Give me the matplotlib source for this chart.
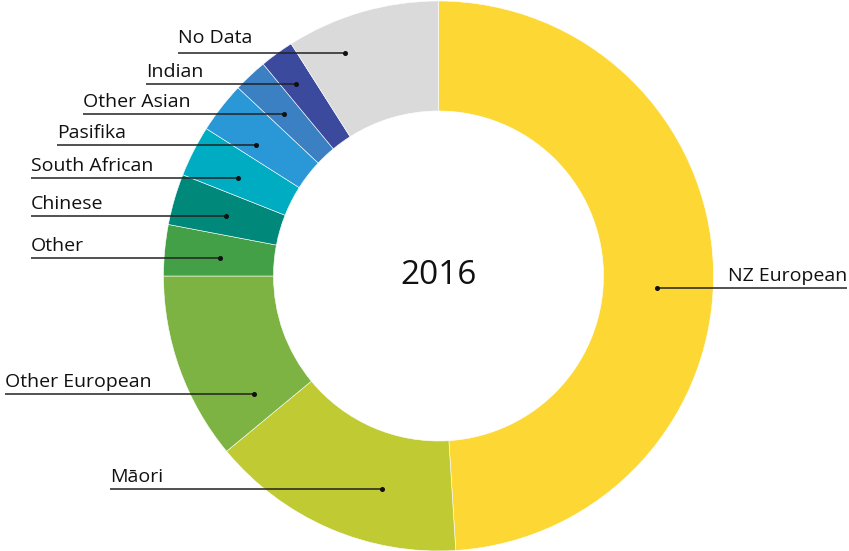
import matplotlib
matplotlib.use("Agg")
import matplotlib.pyplot as plt

categories = ["NZ European", "Māori", "Other European", "Other", "Chinese",
              "South African", "Pasifika", "Other Asian", "Indian", "No Data"]
values = [49.0, 15.0, 11.0, 3.0, 3.0, 3.0, 3.0, 2.0, 2.0, 9.0]
colors = ["#FDD835", "#C0CA33", "#7CB342", "#43A047", "#00897B",
          "#00ACC1", "#2A98D6", "#3A80C3", "#3C4A9E", "#DADADA"]
center_label = "2016"

# label layout: (line y, line x start, dot x, text gap) in pixel coords (top-left origin)
label_layout = {
    "No Data": (53, 178, 345, 10),
    "Indian": (84, 146, 296, 7),
    "Other Asian": (114, 83, 284, 7),
    "Pasifika": (145, 57, 256, 7),
    "South African": (178, 31, 238, 7),
    "Chinese": (216, 31, 226, 7),
    "Other": (258, 31, 220, 7),
    "Other European": (394, 5, 254, 7),
    "Māori": (489, 110, 382, 7),
    "NZ European": (288, 847, 657, 7),
}

W, H = 849, 551
fig = plt.figure(figsize=(W / 100, H / 100), dpi=100)
ax = fig.add_axes([0, 0, 1, 1])

cx, cy = 438.5, H - 276
R, width = 275, 110
ax.pie(values, colors=colors, startangle=90, counterclock=False,
       center=(cx, cy), radius=R, frame=True,
       wedgeprops=dict(width=width, edgecolor="white", linewidth=0.4))
ax.set_xlim(0, W)
ax.set_ylim(0, H)
ax.set_aspect("equal")
ax.axis("off")

font = "Open Sans"
for cat in categories:
    ly, x0, xd, gap = label_layout[cat]
    y = H - ly
    ax.plot([x0, xd], [y, y], color="#222222", lw=1.1, solid_capstyle="butt")
    ax.plot([xd], [y], marker="o", ms=2.6, color="#111111")
    ha = "right" if x0 > xd else "left"
    ax.text(x0, y + gap, cat, ha=ha, va="baseline", fontsize=14,
            family=font, color="#111111")

ax.text(cx, cy, center_label, ha="center", va="center", fontsize=24,
        family=font, color="#111111")

fig.savefig("out.png", dpi=100)
